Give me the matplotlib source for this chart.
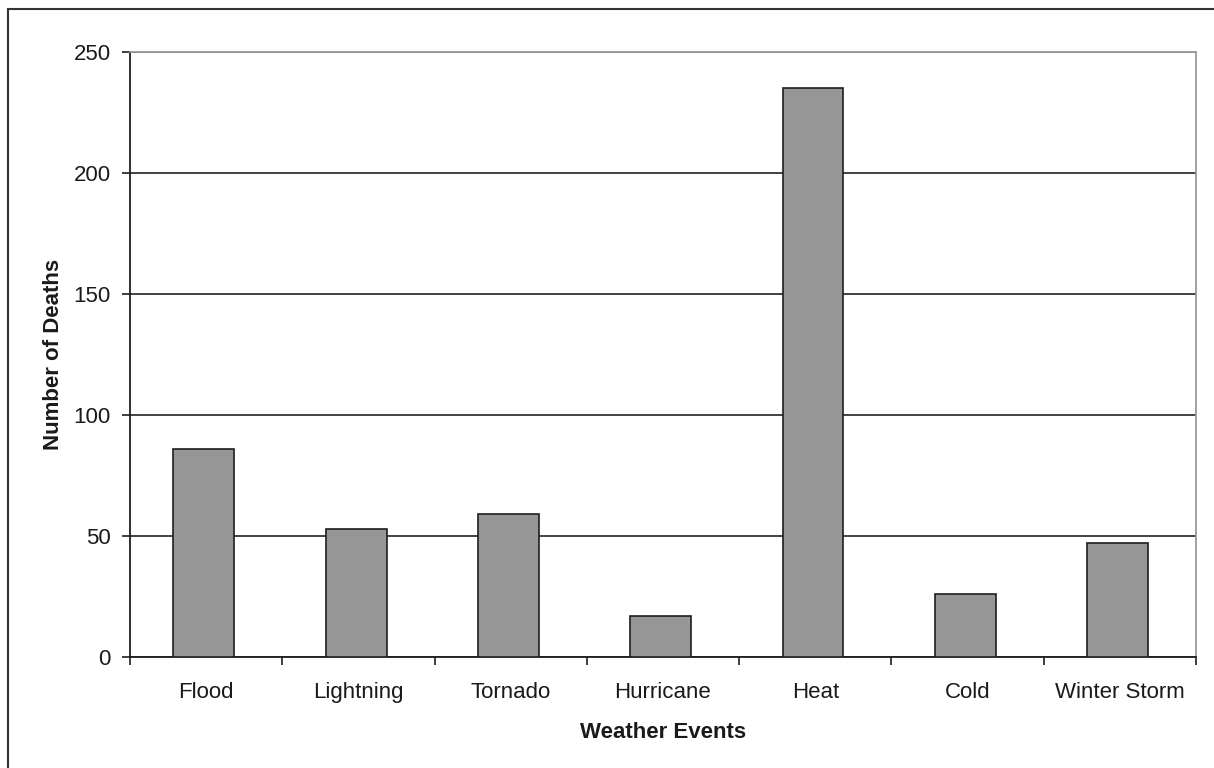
import matplotlib
matplotlib.use('Agg')
import matplotlib.pyplot as plt
from matplotlib.lines import Line2D
import numpy as np

# Deaths by weather event
events = ['Flood', 'Lightning', 'Tornado', 'Hurricane', 'Heat', 'Cold', 'Winter Storm']
deaths = [86, 53, 59, 17, 235, 26, 47]
y_ticks = [0, 50, 100, 150, 200, 250]

plt.rcParams['font.family'] = ['Liberation Sans', 'DejaVu Sans']
text_col = '#1a1a1a'

fig = plt.figure(figsize=(12.14, 7.68), dpi=100)
ax = fig.add_axes([130 / 1214, 1 - 657 / 768, 1066 / 1214, 605 / 768])

x = np.arange(len(events))
ax.bar(x - 0.015, deaths, width=0.4, color='#969696', edgecolor='#1e1e1e', linewidth=1.2, zorder=3)

# horizontal grid lines
ax.set_ylim(0, 250)
ax.set_yticks(y_ticks)
ax.yaxis.grid(True, color='#222222', linewidth=1.2, zorder=1)
ax.set_axisbelow(True)

ax.set_xlim(-0.5, len(events) - 0.5)
# tick marks between the categories, labels centred under the bars
ax.set_xticks(np.arange(-0.5, len(events), 1.0))
ax.set_xticklabels([])
ax.set_xticks(x, minor=True)
ax.set_xticklabels(events, minor=True)
ax.tick_params(axis='x', which='minor', length=0, pad=18, labelsize=16, labelcolor=text_col)
ax.tick_params(axis='x', which='major', length=6, width=1.2, direction='out', color='#1e1e1e')
ax.tick_params(axis='y', length=6, width=1.2, direction='out', pad=8, labelsize=16,
               labelcolor=text_col, color='#1e1e1e')

for side in ['left', 'bottom']:
    ax.spines[side].set_color('#1e1e1e')
    ax.spines[side].set_linewidth(1.3)
for side in ['top', 'right']:
    ax.spines[side].set_color('#9a9a9a')
    ax.spines[side].set_linewidth(1.3)

ax.set_xlabel('Weather Events', fontsize=16, fontweight='bold', color=text_col, labelpad=14)
ax.set_ylabel('Number of Deaths', fontsize=16, fontweight='bold', color=text_col, labelpad=7)

# chart area frame (left and top edges)
fig.add_artist(Line2D([8 / 1214, 8 / 1214], [0, 1 - 9 / 768], transform=fig.transFigure,
                      color='#333333', linewidth=1.5))
fig.add_artist(Line2D([8 / 1214, 1], [1 - 9 / 768, 1 - 9 / 768], transform=fig.transFigure,
                      color='#333333', linewidth=1.5))

fig.savefig('out.png', dpi=100, facecolor='white')
